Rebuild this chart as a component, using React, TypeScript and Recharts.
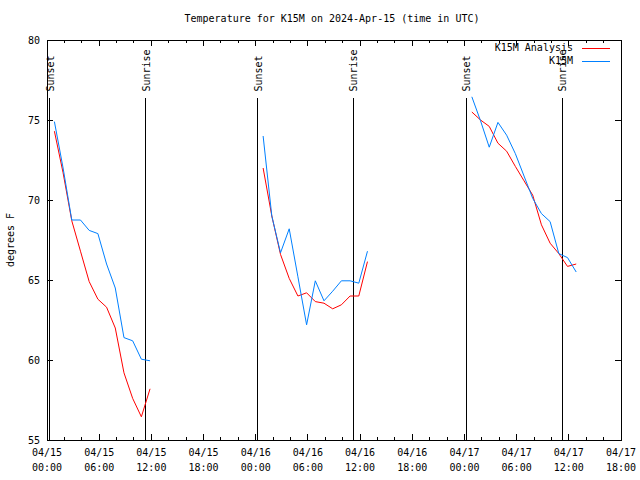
import { LineChart, Line, XAxis, YAxis, ReferenceLine, ReferenceArea, Legend } from 'recharts';

const FONT = '"DejaVu Sans Mono", "Liberation Mono", monospace';

// hours since 04/15 00:00 UTC
const night1Hours = [0.85, 1.85, 2.85, 3.85, 4.85, 5.85, 6.85, 7.85, 8.85, 9.85, 10.85, 11.85];
const night1Analysis = [74.3, 71.7, 68.7, 66.8, 64.9, 63.8, 63.3, 62.0, 59.2, 57.6, 56.45, 58.2];
const night1Observed = [74.9, 72.0, 68.75, 68.75, 68.1, 67.9, 66.0, 64.5, 61.4, 61.2, 60.05, 59.95];

const night2Hours = [24.85, 25.85, 26.85, 27.85, 28.85, 29.85, 30.85, 31.85, 32.85, 33.85, 34.85, 35.85, 36.85];
const night2Analysis = [72.0, 69.0, 66.6, 65.1, 64.0, 64.2, 63.65, 63.55, 63.2, 63.45, 64.0, 64.0, 66.15];
const night2Observed = [74.0, 69.0, 66.7, 68.2, 65.2, 62.2, 64.95, 63.7, 64.3, 64.95, 64.95, 64.8, 66.8];

const night3Hours = [48.85, 49.85, 50.85, 51.85, 52.85, 53.85, 54.85, 55.85, 56.85, 57.85, 58.85, 59.85, 60.85];
const night3Analysis = [75.5, 75.0, 74.6, 73.55, 73.05, 72.1, 71.2, 70.3, 68.45, 67.3, 66.65, 65.85, 66.0];
const night3Observed = [76.45, 74.95, 73.3, 74.85, 74.05, 72.9, 71.5, 70.1, 69.15, 68.65, 66.65, 66.4, 65.5];

const sunsetHours = [0.34, 24.22, 48.21];
const sunriseHours = [11.36, 35.24, 59.23];

const xTicks = [0, 2, 4, 6, 8, 10, 12, 14, 16, 18, 20, 22, 24, 26, 28, 30, 32, 34, 36, 38, 40, 42, 44, 46, 48, 50, 52, 54, 56, 58, 60, 62, 64, 66];
const xTickLabels = [
  '04/15 00:00', '04/15 06:00', '04/15 12:00', '04/15 18:00',
  '04/16 00:00', '04/16 06:00', '04/16 12:00', '04/16 18:00',
  '04/17 00:00', '04/17 06:00', '04/17 12:00', '04/17 18:00',
];
const yTicks = [55, 60, 65, 70, 75, 80];

const legendItems = [
  { name: 'K15M Analysis', color: '#ff0000' },
  { name: 'K15M', color: '#0080ff' },
];

const nights = [
  { hours: night1Hours, analysis: night1Analysis, observed: night1Observed },
  { hours: night2Hours, analysis: night2Analysis, observed: night2Observed },
  { hours: night3Hours, analysis: night3Analysis, observed: night3Observed },
];

// one table, with an empty row between nights so the lines break
const data = nights.flatMap((n, i) => {
  const rows: any[] = n.hours.map((h, j) => ({ hour: h, analysis: n.analysis[j], observed: n.observed[j] }));
  if (i < nights.length - 1) rows.push({ hour: n.hours[n.hours.length - 1] + 1, analysis: null, observed: null });
  return rows;
});

const W = 640;
const H = 480;
const MARGIN = { top: 40, right: 19, bottom: 0, left: 10 };
const X_AXIS_H = 40;
const Y_AXIS_W = 37;
const PLOT_TOP = MARGIN.top;
const PLOT_BOTTOM = H - MARGIN.bottom - X_AXIS_H;
const PLOT_LEFT = MARGIN.left + Y_AXIS_W;
const PLOT_RIGHT = W - MARGIN.right;

function XTick(props: any) {
  const { x, payload } = props;
  const h = payload.value;
  const major = h % 6 === 0;
  const len = major ? 6 : 3;
  const label = major ? xTickLabels[h / 6] : null;
  const [date, time] = label ? label.split(' ') : ['', ''];
  return (
    <g>
      <line x1={x} y1={PLOT_BOTTOM} x2={x} y2={PLOT_BOTTOM - len} stroke="#000" shapeRendering="crispEdges" />
      <line x1={x} y1={PLOT_TOP} x2={x} y2={PLOT_TOP + len} stroke="#000" shapeRendering="crispEdges" />
      {label && (
        <text x={x} y={456} textAnchor="middle" fontFamily={FONT} fontSize={10} fill="#000">
          <tspan x={x}>{date}</tspan>
          <tspan x={x} dy={15}>{time}</tspan>
        </text>
      )}
    </g>
  );
}

function YTick(props: any) {
  const { y, payload } = props;
  return (
    <g>
      <line x1={PLOT_LEFT} y1={y} x2={PLOT_LEFT + 6} y2={y} stroke="#000" shapeRendering="crispEdges" />
      <line x1={PLOT_RIGHT} y1={y} x2={PLOT_RIGHT - 6} y2={y} stroke="#000" shapeRendering="crispEdges" />
      <text x={PLOT_LEFT - 7} y={y + 4} textAnchor="end" fontFamily={FONT} fontSize={10} fill="#000">
        {payload.value}
      </text>
    </g>
  );
}

const sunLabel = (text: string) => (props: any) => {
  const { x, y } = props.viewBox;
  const bx = x + 4;
  const by = y - 6;
  return (
    <text x={bx} y={by} transform={`rotate(-90 ${bx} ${by})`} fontFamily={FONT} fontSize={10} fill="#000">
      {text}
    </text>
  );
};

const yLabel = (props: any) => {
  const { x, y, height } = props.viewBox;
  const bx = x + 4;
  const by = y + height / 2;
  return (
    <text x={bx} y={by} transform={`rotate(-90 ${bx} ${by})`} textAnchor="middle" fontFamily={FONT} fontSize={10} fill="#000">
      degrees F
    </text>
  );
};

const renderLegend = () => (
  <div style={{ fontFamily: FONT, fontSize: 10, lineHeight: '13px' }}>
    {legendItems.map((item) => (
      <div key={item.name} style={{ display: 'flex', justifyContent: 'flex-end', alignItems: 'center' }}>
        <span>{item.name}</span>
        <span style={{ display: 'inline-block', width: 28, height: 1, background: item.color, marginLeft: 9, marginTop: 2 }} />
      </div>
    ))}
  </div>
);

export default function App() {
  return (
    <div style={{ position: 'absolute', left: 0, top: 0, width: W, height: H, background: '#fff' }}>
      <div
        style={{
          position: 'absolute', top: 13, left: 12, width: W, textAlign: 'center',
          fontFamily: FONT, fontSize: 10, lineHeight: '12px',
        }}
      >
        Temperature for K15M on 2024-Apr-15 (time in UTC)
      </div>
      <LineChart width={W} height={H} data={data} margin={MARGIN}>
        <ReferenceArea x1={0} x2={66} y1={55} y2={80} fill="none" fillOpacity={0} stroke="#000" shapeRendering="crispEdges" />
        <XAxis
          dataKey="hour"
          type="number"
          domain={[0, 66]}
          ticks={xTicks}
          interval={0}
          tick={XTick}
          tickLine={false}
          axisLine={false}
          height={X_AXIS_H}
        />
        <YAxis
          type="number"
          domain={[55, 80]}
          ticks={yTicks}
          interval={0}
          tick={YTick}
          tickLine={false}
          axisLine={false}
          width={Y_AXIS_W}
          label={yLabel}
        />
        {sunsetHours.map((t) => (
          <ReferenceLine key={`ss${t}`} segment={[{ x: t, y: 55 }, { x: t, y: 76.4 }]} stroke="#000" shapeRendering="crispEdges" label={sunLabel('Sunset')} />
        ))}
        {sunriseHours.map((t) => (
          <ReferenceLine key={`sr${t}`} segment={[{ x: t, y: 55 }, { x: t, y: 76.4 }]} stroke="#000" shapeRendering="crispEdges" label={sunLabel('Sunrise')} />
        ))}
        <Line dataKey="analysis" name="K15M Analysis" stroke="#ff0000" strokeWidth={1} dot={false} connectNulls={false} isAnimationActive={false} />
        <Line dataKey="observed" name="K15M" stroke="#0080ff" strokeWidth={1} dot={false} connectNulls={false} isAnimationActive={false} />
        <Legend
          layout="horizontal"
          verticalAlign="middle"
          align="center"
          content={renderLegend}
          wrapperStyle={{ position: 'absolute', top: 41, left: 482, width: 128, right: 'auto', bottom: 'auto' }}
        />
      </LineChart>
    </div>
  );
}
